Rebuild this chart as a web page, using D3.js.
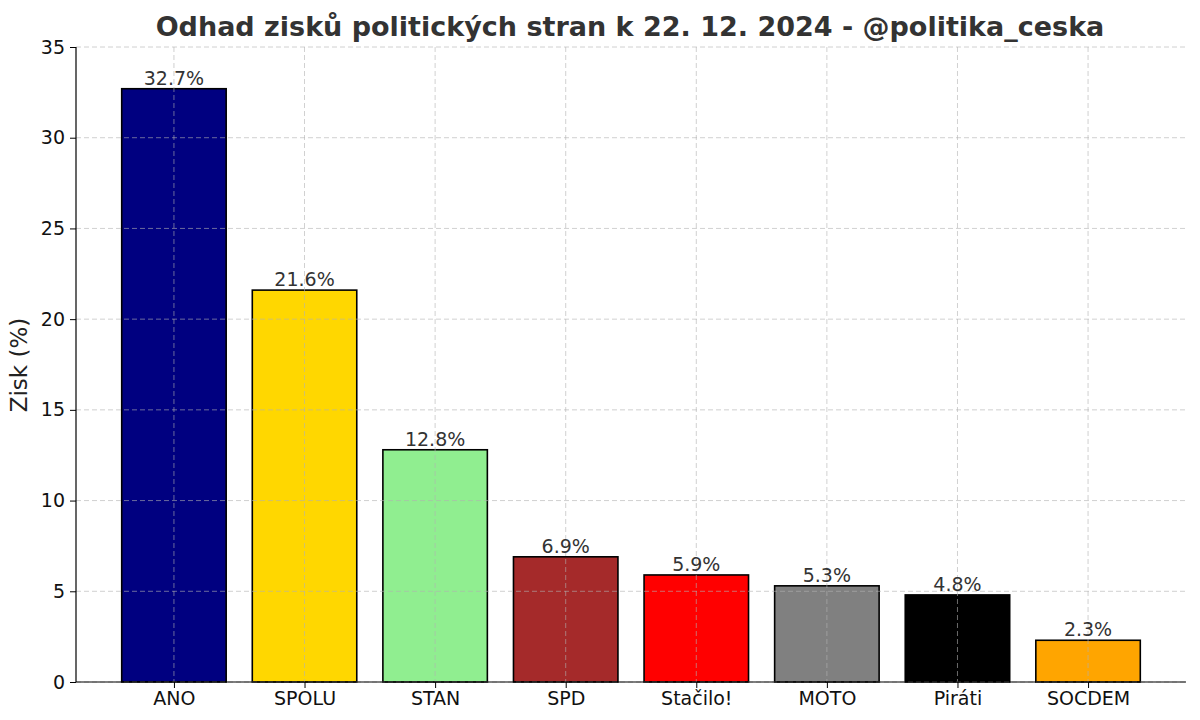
<!DOCTYPE html>
<html><head><meta charset="utf-8">
<script src="https://cdn.jsdelivr.net/npm/d3@7"></script>
<style>body{margin:0;background:#fff;font-family:"DejaVu Sans",sans-serif}</style>
</head><body><svg id="c" width="1200" height="720"></svg>
<script>
const categories=["ANO","SPOLU","STAN","SPD","Stačilo!","MOTO","Piráti","SOCDEM"];
const values=[32.7,21.6,12.8,6.9,5.9,5.3,4.8,2.3];
const colors=["#000080","#FFD700","#90EE90","#A52A2A","#FF0000","#808080","#000000","#FFA500"];
const yTicks=[0,5,10,15,20,25,30,35];
const svg=d3.select("#c");
const L=76,R=1186,T=47,B=682;
const x=d3.scaleLinear().domain([-0.75,7.75]).range([L,R]);
const y=d3.scaleLinear().domain([0,35]).range([B,T]);
const bw=(x(1)-x(0))*0.8;
const g=svg.append("g");
g.selectAll("rect").data(values).join("rect").attr("x",(d,i)=>x(i)-bw/2).attr("width",bw).attr("y",d=>y(d)).attr("height",d=>B-y(d)).attr("fill",(d,i)=>colors[i]).attr("stroke","#000").attr("stroke-width",1.6);
// grid on top
g.selectAll(".gy").data(yTicks).join("line").attr("x1",L).attr("x2",R).attr("y1",d=>y(d)).attr("y2",d=>y(d)).attr("stroke","#b0b0b0").attr("stroke-opacity",0.6).attr("stroke-dasharray","5,3").attr("stroke-width",1);
g.selectAll(".gx").data(categories).join("line").attr("x1",(d,i)=>x(i)).attr("x2",(d,i)=>x(i)).attr("y1",T).attr("y2",B).attr("stroke","#b0b0b0").attr("stroke-opacity",0.6).attr("stroke-dasharray","5,3").attr("stroke-width",1);
g.selectAll(".v").data(values).join("text").attr("x",(d,i)=>x(i)).attr("y",d=>y(d)-4).attr("text-anchor","middle").attr("font-size",19).attr("fill","#333").text(d=>d.toFixed(1)+"%");
const ay=svg.append("g").attr("transform",`translate(${L},0)`).call(d3.axisLeft(y).tickValues(yTicks).tickSize(6).tickPadding(5));
const ax=svg.append("g").attr("transform",`translate(0,${B})`).call(d3.axisBottom(x).tickValues(d3.range(8)).tickFormat(i=>categories[i]).tickSize(6).tickPadding(4));
[ay,ax].forEach(a=>{a.selectAll("text").attr("font-size",19).attr("fill","#111").attr("font-family","DejaVu Sans");a.select(".domain").attr("stroke","#000").attr("stroke-width",1.2);a.selectAll(".tick line").attr("stroke","#000");});
ay.select(".domain").attr("d",`M0,${B}V${T}`);
ax.select(".domain").attr("d",`M${L},0H${R}`);
svg.append("text").attr("x",630).attr("y",36).attr("text-anchor","middle").attr("font-size",27).attr("font-weight","bold").attr("fill","#333").text("Odhad zisků politických stran k 22. 12. 2024 - @politika_ceska");
svg.append("text").attr("transform","translate(27,365) rotate(-90)").attr("text-anchor","middle").attr("font-size",23).attr("fill","#222").text("Zisk (%)");
</script></body></html>
